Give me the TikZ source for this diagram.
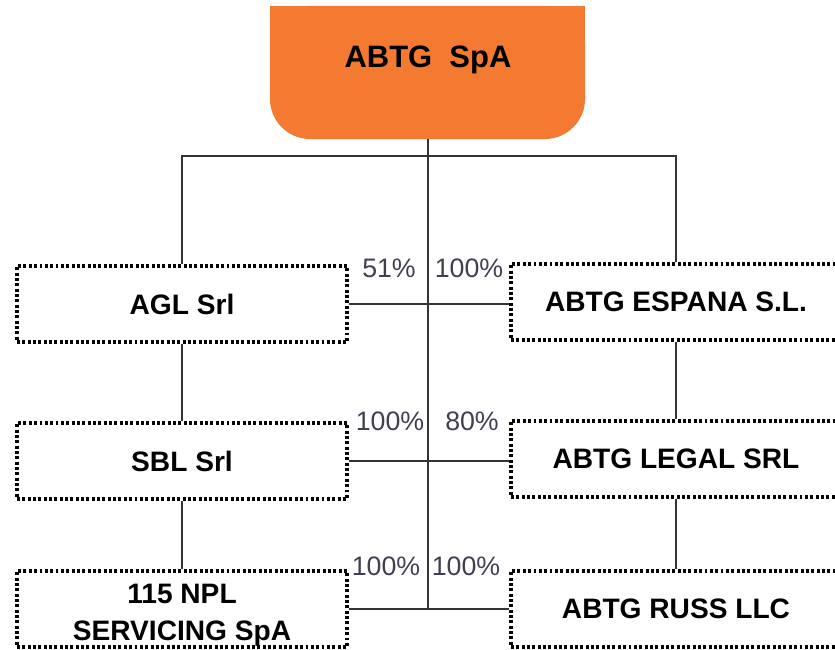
\documentclass[tikz,border=0pt]{standalone}
\usepackage{fontspec}
\setsansfont{Liberation Sans}
\usetikzlibrary{positioning,calc}
\definecolor{abtgorange}{RGB}{245,122,49}
\definecolor{pctgray}{RGB}{64,64,80}
\tikzset{>=latex}

\begin{document}
\begin{tikzpicture}[x=0.025cm, y=-0.025cm, font=\sffamily,
		company/.style={draw=black, line width=2.3pt, dash pattern=on 2.1pt off 1.7pt, minimum width=8.25cm, minimum height=1.9cm, align=center, font=\sffamily\bfseries\fontsize{20}{26}\selectfont},
		pct/.style={text=pctgray, inner sep=1pt, font=\sffamily\fontsize{19}{22}\selectfont},
		link/.style={draw=black!80, line width=0.9pt}]
		\useasboundingbox (0,0) rectangle (835,650);
		
		\fill[abtgorange, rounded corners=1cm] (270,6) rectangle (585,139);
		\fill[abtgorange] (270,6) rectangle (585,70);
		\node[font=\sffamily\bfseries\fontsize{22}{26}\selectfont] (abtg) at (428,60) {ABTG\ \ SpA};
		\coordinate (abtgfoot) at (428,139);
		\coordinate (bar) at (428,156);
		
		\node[company] (agl) at (182,304) {AGL Srl};
		\node[company] (espana) at (676,302) {ABTG ESPANA S.L.};
		\node[company] (sbl) at (182,461) {SBL Srl};
		\node[company] (legal) at (676,459) {ABTG LEGAL SRL};
		\node[company, label={[yshift=-0.15cm, align=center, font=\sffamily\bfseries\fontsize{20}{26}\selectfont]center:115 NPL\\SERVICING SpA}] (npl) at (182,609) {};
		\node[company] (russ) at (676,609) {ABTG RUSS LLC};
		
		\draw[link] (abtgfoot) -- (abtgfoot |- npl.east);
		\draw[link] (agl.north) |- (bar) -| (espana.north);
		\draw[link] (agl.south) -- (sbl.north);
		\draw[link] (sbl.south) -- (npl.north);
		\draw[link] (espana.south) -- (legal.north);
		\draw[link] (legal.south) -- (russ.north);
		\draw[link] (agl.east) -- (agl.east -| espana.west);
		\draw[link] (sbl.east) -- (sbl.east -| legal.west);
		\draw[link] (npl.east) -- (russ.west);
		
		\node[pct] (pagl) at (389,268) {51\%};
		\node[pct] (pespana) at (469,268) {100\%};
		\node[pct] (psbl) at (390,421) {100\%};
		\node[pct] (plegal) at (472,421) {80\%};
		\node[pct] (pnpl) at (386,566) {100\%};
		\node[pct] (pruss) at (466,566) {100\%};
	\end{tikzpicture}
\end{document}
